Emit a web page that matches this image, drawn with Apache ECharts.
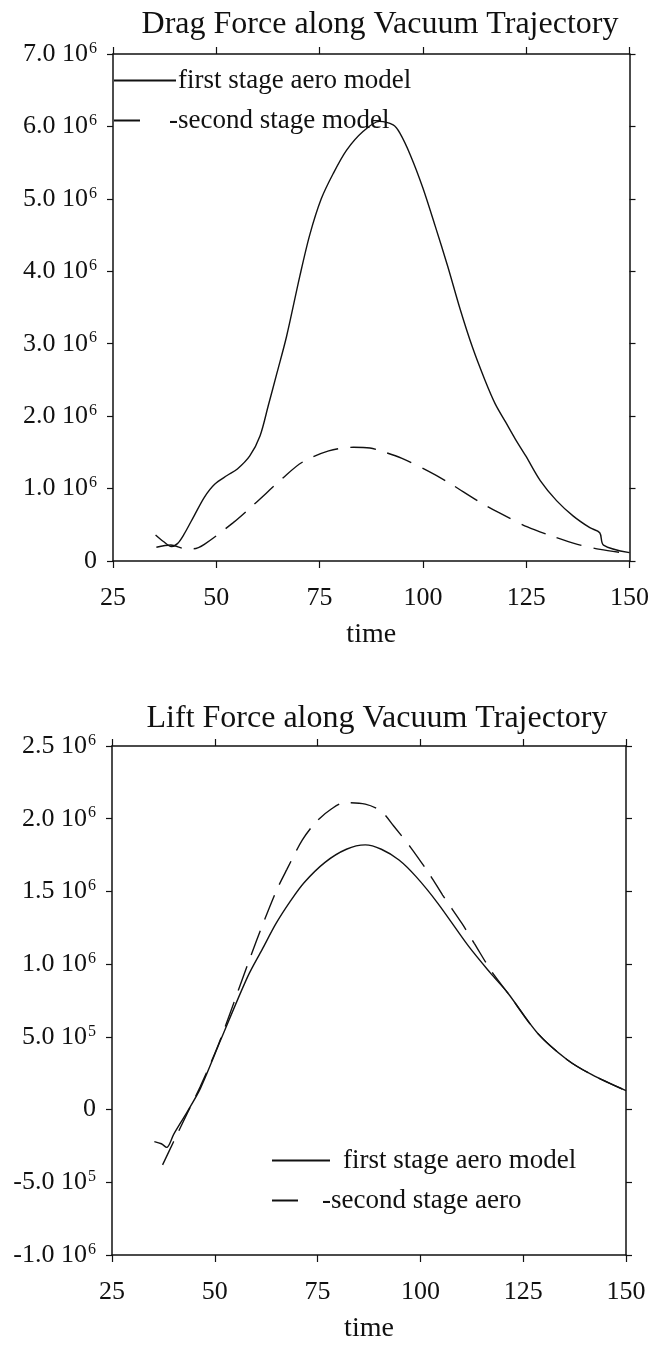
<!DOCTYPE html>
<html>
<head>
<meta charset="utf-8">
<script src="https://cdn.jsdelivr.net/npm/echarts@6/dist/echarts.min.js"></script>
<style>html,body{margin:0;padding:0;background:#fff}#c{width:652px;height:1347px}</style>
</head>
<body>
<div id="c"></div>
<script>
// ---- data (time, force in N) ----
const timeTicks = [25, 50, 75, 100, 125, 150];
const dragTickLabels = ['0','1.0 10{s|6}','2.0 10{s|6}','3.0 10{s|6}','4.0 10{s|6}','5.0 10{s|6}','6.0 10{s|6}','7.0 10{s|6}'];
const liftTickLabels = ['-1.0 10{s|6}','-5.0 10{s|5}','0','5.0 10{s|5}','1.0 10{s|6}','1.5 10{s|6}','2.0 10{s|6}','2.5 10{s|6}'];

const dragFirst = [
  [35.3,0.36e6],[37.2,0.27e6],[39.1,0.20e6],[40.6,0.24e6],[42.1,0.36e6],[44.6,0.62e6],[47.1,0.88e6],[49.6,1.06e6],
  [52.6,1.18e6],[55.1,1.27e6],[58.1,1.45e6],[60.6,1.73e6],[62.6,2.15e6],[64.7,2.60e6],[67.0,3.10e6],[70.2,3.93e6],
  [72.6,4.50e6],[75.4,5.00e6],[78.3,5.35e6],[81.5,5.67e6],[85.5,5.93e6],[89.5,6.07e6],[92.8,6.02e6],[94.4,5.91e6],
  [97.0,5.60e6],[100.0,5.15e6],[103.0,4.62e6],[106.0,4.07e6],[109.0,3.48e6],[112.0,2.95e6],[115.0,2.50e6],[117.5,2.17e6],
  [120.0,1.92e6],[122.4,1.68e6],[124.9,1.45e6],[128.4,1.11e6],[132.4,0.83e6],[136.4,0.62e6],[140.4,0.46e6],[142.8,0.39e6],
  [143.7,0.22e6],[150.0,0.115e6]
];
const dragSecond = [
  [35.5,0.19e6],[39.0,0.22e6],[42.5,0.17e6],[44.5,0.17e6],[47.1,0.23e6],[54.1,0.53e6],[59.1,0.78e6],[66.2,1.15e6],[70.7,1.36e6],
  [77.2,1.52e6],[83.2,1.57e6],[87.2,1.56e6],[89.8,1.52e6],[94.8,1.42e6],[101.3,1.24e6],[106.3,1.08e6],[113.3,0.83e6],
  [118.3,0.67e6],[125.3,0.47e6],[130.4,0.36e6],[137.4,0.23e6],[142.9,0.16e6],[150.0,0.10e6]
];
const liftFirst = [
  [35.3,-0.22e6],[37.0,-0.235e6],[38.3,-0.26e6],[40.0,-0.17e6],[43.4,-0.01e6],[46.5,0.146e6],[51.6,0.49e6],[58.0,0.914e6],
  [61.5,1.10e6],[64.9,1.28e6],[68.3,1.43e6],[71.7,1.56e6],[76.8,1.70e6],[82.0,1.79e6],[86.6,1.82e6],[90.5,1.79e6],
  [94.8,1.716e6],[99.0,1.60e6],[104.2,1.42e6],[111.8,1.12e6],[117.0,0.94e6],[121.3,0.80e6],[128.5,0.525e6],[135.7,0.343e6],
  [141.7,0.24e6],[150.0,0.13e6]
];
const liftSecond = [
  [37.3,-0.38e6],[40.0,-0.22e6],[43.4,-0.02e6],[46.5,0.16e6],[50.5,0.42e6],[53.3,0.63e6],[55.9,0.834e6],[60.2,1.166e6],
  [64.9,1.50e6],[67.5,1.65e6],[71.3,1.854e6],[74.7,1.98e6],[78.5,2.07e6],[81.5,2.11e6],[86.6,2.10e6],[90.5,2.05e6],
  [93.5,1.95e6],[97.7,1.80e6],[102.4,1.61e6],[105.4,1.475e6],[110.1,1.28e6],[113.1,1.143e6],[117.3,0.95e6],[121.3,0.80e6],
  [128.5,0.525e6],[135.7,0.343e6],[141.7,0.24e6],[150.0,0.13e6]
];

const FONT = 'Liberation Serif';
const INK = '#111';
const chart = echarts.init(document.getElementById('c'), null, {renderer:'canvas'});

function yLab(labels, min, step){
  return {
    fontFamily: FONT, fontSize: 26, color: INK, margin: 16,
    formatter: v => labels[Math.round((v - min)/step)],
    rich: { s: { fontFamily: FONT, fontSize: 16, color: INK, verticalAlign: 'top', padding:[0,0,11,1] } }
  };
}
const axLine = {show:true, onZero:false, lineStyle:{color:INK, width:1.5}};
function xMain(grid){
  return {type:'value', gridIndex:grid, min:timeTicks[0], max:timeTicks[timeTicks.length-1], interval:25, position:'bottom',
    axisLine:axLine, axisTick:{show:true, length:7, lineStyle:{color:INK,width:1.2}},
    axisLabel:{fontFamily:FONT, fontSize:26, color:INK, margin:24, formatter:v=>String(v)},
    splitLine:{show:false},
    name:'time', nameLocation:'middle', nameGap:60, nameTextStyle:{fontFamily:FONT,fontSize:28,color:INK}};
}
function xTop(grid){
  return {type:'value', gridIndex:grid, min:25, max:150, interval:25, position:'top',
    axisLine:axLine, axisTick:{show:true, length:7, lineStyle:{color:INK,width:1.2}},
    axisLabel:{show:false}, splitLine:{show:false}};
}
function yMain(grid, min, max, step, labels){
  return {type:'value', gridIndex:grid, min, max, interval:step, position:'left',
    axisLine:axLine, axisTick:{show:true, length:6, lineStyle:{color:INK,width:1.2}},
    axisLabel:yLab(labels, min, step), splitLine:{show:false}};
}
function yRight(grid, min, max, step){
  return {type:'value', gridIndex:grid, min, max, interval:step, position:'right',
    axisLine:axLine, axisTick:{show:true, length:6, lineStyle:{color:INK,width:1.2}},
    axisLabel:{show:false}, splitLine:{show:false}};
}
function legendAt(name, left, top, w, pad){
  return {data:[name], left, top, padding:0, itemWidth:w, itemHeight:20, itemGap:0,
    itemStyle:{opacity:0}, selectedMode:false,
    textStyle:{fontFamily:FONT, fontSize:27, color:INK, padding:[0,0,0,pad]}};
}
const lineS = (name, data, x, y, dashed) => ({
  name, type:'line', data, xAxisIndex:x, yAxisIndex:y, showSymbol:false, symbol:'none',
  smooth:0.3,
  lineStyle:{color:INK, width:1.4, type: dashed ? [26,12] : 'solid'}, itemStyle:{color:INK}, z:3, animation:false
});

chart.setOption({
  backgroundColor:'#fff',
  animation:false,
  title:[
    {text:'Drag Force along Vacuum Trajectory', left:375, top:4, textAlign:'center',
     textStyle:{fontFamily:FONT, fontSize:32, fontWeight:'normal', color:INK}},
    {text:'Lift Force along Vacuum Trajectory', left:372, top:698, textAlign:'center',
     textStyle:{fontFamily:FONT, fontSize:32, fontWeight:'normal', color:INK}}
  ],
  grid:[
    {left:113, top:54, width:517, height:507},
    {left:112, top:746, width:514, height:509}
  ],
  xAxis:[xMain(0), xTop(0), xMain(1), xTop(1)],
  yAxis:[yMain(0,0,7e6,1e6,dragTickLabels), yRight(0,0,7e6,1e6),
         yMain(1,-1e6,2.5e6,5e5,liftTickLabels), yRight(1,-1e6,2.5e6,5e5)],
  legend:[
    legendAt('first stage aero model', 113, 67, 62, -3),
    legendAt('-second stage model', 113, 107, 32, 18),
    legendAt('first stage aero model ', 271, 1147, 58, 8),
    legendAt('-second stage aero', 271, 1187, 32, 13)
  ],
  series:[
    lineS('first stage aero model', dragFirst, 0, 0, false),
    lineS('-second stage model', dragSecond, 0, 0, true),
    lineS('first stage aero model ', liftFirst, 2, 2, false),
    lineS('-second stage aero', liftSecond, 2, 2, true)
  ]
});
</script>
</body>
</html>
